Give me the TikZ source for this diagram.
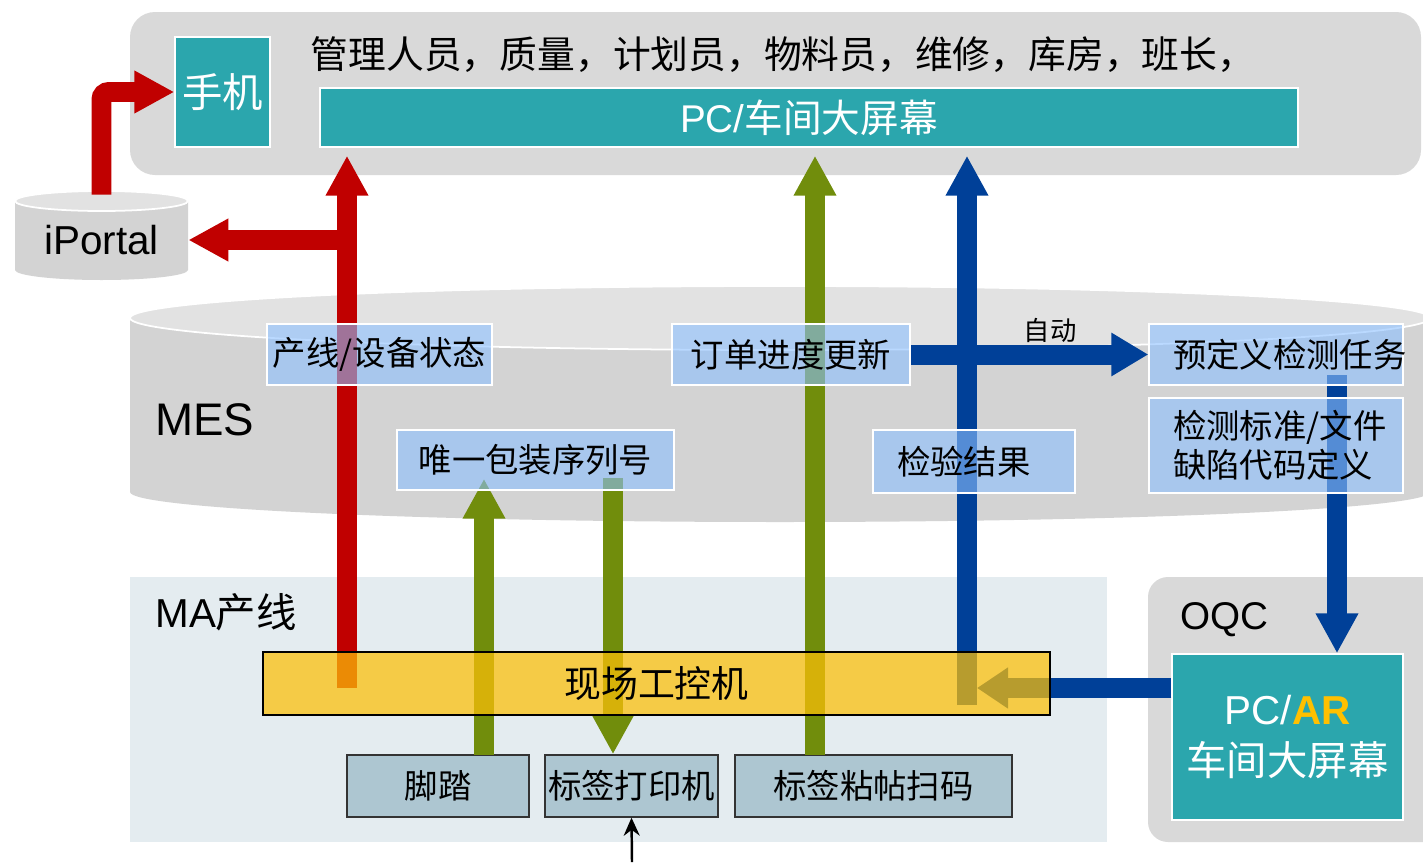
\documentclass[tikz,border=0pt]{standalone}
\usepackage{fontspec}
\setmainfont{Noto Sans CJK SC}
\newfontfamily\arial{Liberation Sans}
\usepackage{tikz}
\usetikzlibrary{arrows.meta}
\definecolor{boxteal}{RGB}{43,166,173}
\definecolor{panelgray}{RGB}{217,217,217}
\definecolor{cylside}{RGB}{211,211,211}
\definecolor{cyltop}{RGB}{226,226,226}
\definecolor{mared}{RGB}{192,0,0}
\definecolor{magreen}{RGB}{113,141,12}
\definecolor{mablue}{RGB}{0,64,152}
\definecolor{lblblue}{RGB}{140,192,255}
\definecolor{ipcyellow}{RGB}{252,191,8}
\definecolor{devblue}{RGB}{173,198,209}
\definecolor{maback}{RGB}{228,236,240}
\definecolor{argold}{RGB}{255,192,0}
\pgfdeclarelayer{front}
\pgfsetlayers{main,front}
\tikzset{
  txt/.style={inner sep=0pt},
  lbl/.style={draw=white, line width=0.8pt, fill=lblblue, fill opacity=0.6, text opacity=1,
    font=\fontsize{19}{22}\selectfont, minimum height=1.22cm, inner sep=0pt},
  lblleft/.style={lbl, align=left, inner xsep=0.48cm},
  screen/.style={draw=white, line width=0.8pt, fill=boxteal, text=white, inner sep=0pt},
  device/.style={draw=black!80, line width=0.8pt, fill=devblue, minimum height=1.24cm,
    inner sep=0pt, font=\fontsize{19}{22}\selectfont},
  fat/.style={line width=0.4cm, -{Triangle[length=0.8cm, width=0.8cm]}}
}
\begin{document}
\begin{tikzpicture}[x=0.02cm, y=-0.02cm]
\useasboundingbox (0,0) rectangle (1423,862);
% panels
\fill[panelgray, rounded corners=0.5cm] (130,12) rectangle (1421,175);
\fill[maback] (130,577) rectangle (1107,842);
\fill[panelgray, rounded corners=0.4cm] (1148,577) rectangle (1450,842);
% MES
\fill[cylside] (130,318) -- (130,492) arc[start angle=180, end angle=0, x radius=650, y radius=30] -- (1430,318) -- cycle;
\draw[white, fill=cyltop, line width=1pt] (780,318) ellipse [x radius=650, y radius=32];
% iPortal
\fill[cylside] (15,201) -- (15,270) arc[start angle=180, end angle=0, x radius=86.5, y radius=10] -- (188,201) -- cycle;
\draw[white, fill=cyltop, line width=1pt] (101.5,201) ellipse [x radius=86.5, y radius=10];

\node[screen, minimum width=1.9cm, minimum height=2.2cm, font=\fontsize{23}{26}\selectfont] (phone) at (222.5,92) {手机};
\node[txt, font=\fontsize{21.5}{24}\selectfont] (users) at (783,55) {管理人员，质量，计划员，物料员，维修，库房，班长，};
\node[screen, minimum width=19.56cm, minimum height=1.18cm, font=\fontsize{22}{26}\selectfont] (pcbar) at (809,117.5) {{\arial PC/}车间大屏幕};
\node[minimum width=3.46cm, minimum height=1.8cm, font=\arial\fontsize{23}{26}\selectfont] (iportal) at (101.5,240) {iPortal};
\node[txt, anchor=west, font=\arial\fontsize{26}{30}\selectfont] (mes) at (155,420) {MES};
\node[txt, anchor=west, font=\fontsize{23}{26}\selectfont] (ma) at (155,612) {{\arial MA}产线};
\node[txt, anchor=west, font=\arial\fontsize{22}{26}\selectfont] (oqc) at (1180,620) {OQC};
\node[txt, font=\fontsize{15}{18}\selectfont] (auto) at (1050,330) {自动};

\node[device, minimum width=3.64cm] (foot) at (438,786) {脚踏};
\node[device, minimum width=3.46cm] (printer) at (631.5,786) {标签打印机};
\node[device, minimum width=5.54cm] (scan) at (873.5,786) {标签粘帖扫码};
\node[screen, minimum width=4.62cm, minimum height=3.32cm, align=center, font=\fontsize{23}{29}\selectfont] (pcar) at (1287.5,737)
  {{\arial PC/{\bfseries\color{argold}AR}}\\车间大屏幕};

\begin{pgfonlayer}{front}
\node[lbl, minimum width=4.5cm] (state) at (379.5,354.5) {产线/设备状态};
\node[lbl, minimum width=4.76cm] (order) at (791,354.5) {订单进度更新};
\node[lblleft, minimum width=5.08cm, text width=4.12cm] (task) at (1276,354.5) {预定义检测任务};
\node[lblleft, minimum width=5.08cm, minimum height=1.9cm, text width=4.12cm] (std) at (1276,445.5) {检测标准/文件\\缺陷代码定义};
\node[lbl, minimum width=5.54cm, minimum height=1.2cm] (serial) at (535.5,460) {唯一包装序列号};
\node[lblleft, minimum width=4.04cm, minimum height=1.26cm, text width=3.08cm] (result) at (974,461.5) {检验结果};
\node[draw=black, line width=0.8pt, fill=ipcyellow, fill opacity=0.73, text opacity=1, minimum width=15.74cm,
  minimum height=1.26cm, font=\fontsize{21}{24}\selectfont] (ipc) at (656.5,683.5) {现场工控机};
\end{pgfonlayer}

\coordinate (rbase) at (347,688);
\coordinate (gfoot) at (484,755);
\coordinate (gserial) at (613,478);
\coordinate (gscan) at (815,755);
\coordinate (bipc) at (967,705);
\coordinate (bturn) at (977,688);
\coordinate (btask) at (1337,375);
\coordinate (feed) at (632,862);

\draw[fat, mared, rounded corners=0.15cm] (iportal.north) |- (phone.west);
\draw[fat, mared, shorten >=0.16cm] (rbase) -- (rbase |- pcbar.south);
\draw[fat, mared] (rbase |- iportal.east) -- (iportal.east);
\draw[fat, magreen, shorten >=-0.24cm] (gfoot) -- (gfoot |- serial.south);
\draw[fat, magreen] (gserial) -- (gserial |- printer.north);
\draw[fat, magreen, shorten >=0.16cm] (gscan) -- (gscan |- pcbar.south);
\draw[fat, mablue, shorten >=0.16cm] (bipc) -- (bipc |- pcbar.south);
\draw[fat, mablue, -{Triangle[length=0.62cm, width=0.78cm]}] (bturn -| pcar.west) -- (bturn);
\draw[fat, mablue, -{Triangle[length=0.74cm, width=0.82cm]}] (order.east) -- (task.west);
\draw[fat, mablue] (btask) -- (btask |- pcar.north);
\draw[line width=1.4pt, -{Stealth[length=0.36cm, width=0.32cm]}] (feed) -- (printer.south);
\end{tikzpicture}
\end{document}
